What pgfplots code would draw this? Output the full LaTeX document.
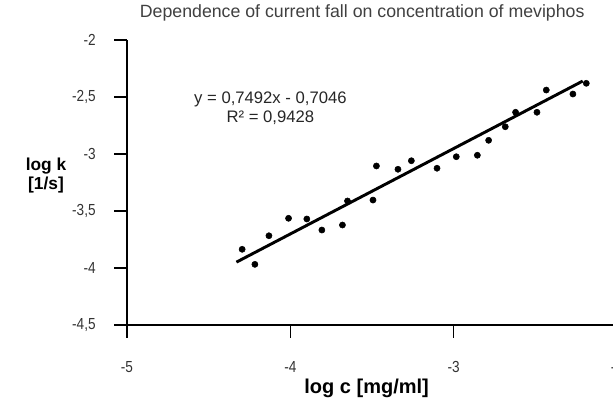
\documentclass[border=0pt]{standalone}
\usepackage{fontspec}
\setmainfont{Liberation Sans}
\newfontfamily\narrowfont[FakeStretch=0.85]{Liberation Sans}
\usepackage{pgfplots}
\pgfplotsset{compat=1.18}
\begin{document}
\begin{tikzpicture}
\begin{axis}[
  at={(0,0)}, anchor=south west,
  scale only axis,
  width=367.5pt, height=213.75pt,
  xmin=-5, xmax=-2, ymin=-4.5, ymax=-2,
  axis lines*=left,
  axis line style={line width=1.3pt, black},
  xtick={-5,-4,-3,-2},
  ytick={-4.5,-4,-3.5,-3,-2.5,-2},
  tick align=outside,
  major tick length=9.5pt,
  tick style={line width=1.1pt, black},
  /pgf/number format/assume math mode=true,
  /pgf/number format/use comma,
  /pgf/number format/fixed,
  ticklabel style={font=\narrowfont\fontsize{12}{13}\selectfont, text=black!80},
  xticklabel style={yshift=-14.5pt},
  yticklabel style={xshift=-10.5pt},
  title={Dependence of current fall on concentration of meviphos},
  title style={at={(rel axis cs:0.48,1)}, anchor=center, yshift=14.6pt,
    font=\fontsize{13.3}{15}\selectfont, text=black!75},
  xlabel={log c [mg/ml]},
  xlabel style={at={(rel axis cs:0.489,0)}, anchor=center, yshift=-47.25pt,
    font=\bfseries\fontsize{15}{17}\selectfont},
  ylabel={log k\\{}[1/s]},
  ylabel style={at={(rel axis cs:0,0.526)}, anchor=center, rotate=-90, xshift=-60.75pt,
    align=center, font=\bfseries\fontsize{13}{14.25}\selectfont},
  clip=false,
]
\addplot[only marks, mark=*, mark size=2.3pt, black] coordinates {
(-4.295,-3.836) (-4.217,-3.968) (-4.131,-3.717) (-4.011,-3.564)
(-3.899,-3.570) (-3.807,-3.667) (-3.681,-3.623) (-3.650,-3.412)
(-3.494,-3.404) (-3.473,-3.105) (-3.341,-3.134) (-3.259,-3.059)
(-3.102,-3.125) (-2.984,-3.024) (-2.855,-3.011) (-2.786,-2.880)
(-2.684,-2.761) (-2.621,-2.634) (-2.490,-2.634) (-2.433,-2.439)
(-2.270,-2.474) (-2.188,-2.380)
};
\addplot[black, line width=2.2pt] coordinates {(-4.33,-3.9486) (-2.21,-2.3603)};
\node[align=center, font=\fontsize{12.5}{14.25}\selectfont, text=black!85]
  at (axis cs:-4.122,-2.601) {y = 0,7492x - 0,7046\\R² = 0,9428};
\end{axis}
\pgfresetboundingbox
\path[use as bounding box] (-95.25pt,-55.5pt) rectangle (364.5pt,243.75pt);
\end{tikzpicture}
\end{document}
